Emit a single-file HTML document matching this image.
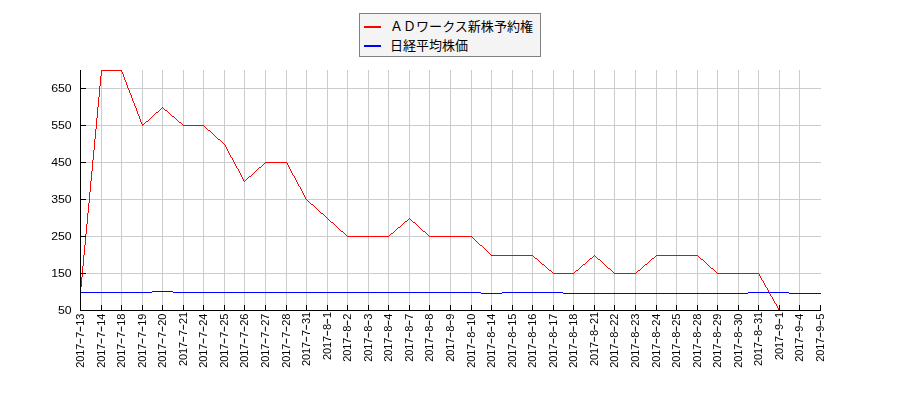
<!DOCTYPE html>
<html lang="ja">
<head>
<meta charset="utf-8">
<title>ＡＤワークス新株予約権 日経平均株価</title>
<style>
html,body{margin:0;padding:0;background:#fff;}
body{width:900px;height:400px;overflow:hidden;font-family:"Liberation Sans",sans-serif;}
svg{display:block;}
.yl{font-family:"Liberation Sans",sans-serif;font-size:11px;fill:#000;}
.xl{font-family:"Liberation Sans",sans-serif;font-size:11px;fill:#000;}
.hy{fill-opacity:0;}
.lg{font-family:"Liberation Sans","Noto Sans CJK JP",sans-serif;font-size:13px;}
</style>
</head>
<body>
<svg width="900" height="400" viewBox="0 0 900 400">
<path id="grid" fill="#cccccc" shape-rendering="crispEdges" d="M81 273h740v1h-740zM81 236h740v1h-740zM81 199h740v1h-740zM81 162h740v1h-740zM81 125h740v1h-740zM81 88h740v1h-740zM101 70h1v240h-1zM121 70h1v240h-1zM142 70h1v240h-1zM162 70h1v240h-1zM183 70h1v240h-1zM203 70h1v240h-1zM224 70h1v240h-1zM244 70h1v240h-1zM265 70h1v240h-1zM286 70h1v240h-1zM306 70h1v240h-1zM327 70h1v240h-1zM347 70h1v240h-1zM368 70h1v240h-1zM388 70h1v240h-1zM409 70h1v240h-1zM429 70h1v240h-1zM450 70h1v240h-1zM471 70h1v240h-1zM491 70h1v240h-1zM512 70h1v240h-1zM532 70h1v240h-1zM553 70h1v240h-1zM573 70h1v240h-1zM594 70h1v240h-1zM614 70h1v240h-1zM635 70h1v240h-1zM656 70h1v240h-1zM676 70h1v240h-1zM697 70h1v240h-1zM717 70h1v240h-1zM738 70h1v240h-1zM758 70h1v240h-1zM779 70h1v240h-1zM799 70h1v240h-1z"/>
<path id="series-nikkei" fill="#0000ff" shape-rendering="crispEdges" d="M152 291h21v1h-21zM81 292h71v1h-71zM173 292h308v1h-308zM502 292h61v1h-61zM748 292h41v1h-41zM481 293h21v1h-21zM563 293h185v1h-185zM789 293h32v1h-32z"/>
<path id="series-adworks" fill="#ff0000" shape-rendering="crispEdges" d="M101 70h21v1h-21zM101 71h1v5h-1zM121 71h1v1h-1zM122 72h1v2h-1zM123 74h1v3h-1zM100 76h1v10h-1zM124 77h1v3h-1zM125 80h1v2h-1zM126 82h1v3h-1zM127 85h1v3h-1zM99 86h1v11h-1zM128 88h1v2h-1zM129 90h1v3h-1zM130 93h1v2h-1zM131 95h1v3h-1zM98 97h1v10h-1zM132 98h1v3h-1zM133 101h1v2h-1zM134 103h1v3h-1zM135 106h1v2h-1zM97 107h1v11h-1zM162 107h1v1h-1zM136 108h1v3h-1zM161 108h1v1h-1zM163 108h1v1h-1zM160 109h1v1h-1zM164 109h1v1h-1zM159 110h1v1h-1zM165 110h2v1h-2zM137 111h1v3h-1zM158 111h1v1h-1zM167 111h1v1h-1zM156 112h2v1h-2zM168 112h1v1h-1zM155 113h1v1h-1zM169 113h1v1h-1zM138 114h1v2h-1zM154 114h1v1h-1zM170 114h1v1h-1zM153 115h1v1h-1zM171 115h1v1h-1zM139 116h1v3h-1zM152 116h1v1h-1zM172 116h2v1h-2zM151 117h1v1h-1zM174 117h1v1h-1zM96 118h1v11h-1zM150 118h1v1h-1zM175 118h1v1h-1zM140 119h1v3h-1zM149 119h1v1h-1zM176 119h1v1h-1zM148 120h1v1h-1zM177 120h1v1h-1zM146 121h2v1h-2zM178 121h1v1h-1zM141 122h1v2h-1zM145 122h1v1h-1zM179 122h2v1h-2zM144 123h1v1h-1zM181 123h1v1h-1zM142 124h2v1h-2zM182 124h1v1h-1zM142 125h1v1h-1zM183 125h21v1h-21zM204 126h1v1h-1zM205 127h1v1h-1zM206 128h1v1h-1zM95 129h1v10h-1zM207 129h1v1h-1zM208 130h2v1h-2zM210 131h1v1h-1zM211 132h1v1h-1zM212 133h1v1h-1zM213 134h1v1h-1zM214 135h1v1h-1zM215 136h1v1h-1zM216 137h1v1h-1zM217 138h1v1h-1zM94 139h1v11h-1zM218 139h2v1h-2zM220 140h1v1h-1zM221 141h1v1h-1zM222 142h1v1h-1zM223 143h1v1h-1zM224 144h1v1h-1zM225 145h1v2h-1zM226 147h1v2h-1zM227 149h1v2h-1zM93 150h1v10h-1zM228 151h1v2h-1zM229 153h1v2h-1zM230 155h1v2h-1zM231 157h1v1h-1zM232 158h1v2h-1zM92 160h1v11h-1zM233 160h1v2h-1zM234 162h1v2h-1zM265 162h22v1h-22zM264 163h1v1h-1zM287 163h1v2h-1zM235 164h1v2h-1zM263 164h1v1h-1zM262 165h1v1h-1zM288 165h1v2h-1zM236 166h1v2h-1zM261 166h1v1h-1zM259 167h2v1h-2zM289 167h1v2h-1zM237 168h1v1h-1zM258 168h1v1h-1zM238 169h1v2h-1zM257 169h1v1h-1zM290 169h1v2h-1zM256 170h1v1h-1zM91 171h1v10h-1zM239 171h1v2h-1zM255 171h1v1h-1zM291 171h1v2h-1zM254 172h1v1h-1zM240 173h1v2h-1zM253 173h1v1h-1zM292 173h1v2h-1zM252 174h1v1h-1zM241 175h1v2h-1zM251 175h1v1h-1zM293 175h1v1h-1zM249 176h2v1h-2zM294 176h1v2h-1zM242 177h1v2h-1zM248 177h1v1h-1zM247 178h1v1h-1zM295 178h1v2h-1zM243 179h1v2h-1zM246 179h1v1h-1zM245 180h1v1h-1zM296 180h1v2h-1zM90 181h1v11h-1zM244 181h1v1h-1zM297 182h1v2h-1zM298 184h1v2h-1zM299 186h1v1h-1zM300 187h1v2h-1zM301 189h1v2h-1zM302 191h1v2h-1zM89 192h1v11h-1zM303 193h1v2h-1zM304 195h1v2h-1zM305 197h1v2h-1zM306 199h1v1h-1zM307 200h1v1h-1zM308 201h1v1h-1zM309 202h1v1h-1zM88 203h1v10h-1zM310 203h1v1h-1zM311 204h2v1h-2zM313 205h1v1h-1zM314 206h1v1h-1zM315 207h1v1h-1zM316 208h1v1h-1zM317 209h1v1h-1zM318 210h1v1h-1zM319 211h1v1h-1zM320 212h1v1h-1zM87 213h1v11h-1zM321 213h2v1h-2zM323 214h1v1h-1zM324 215h1v1h-1zM325 216h1v1h-1zM326 217h1v1h-1zM327 218h1v1h-1zM409 218h1v1h-1zM328 219h1v1h-1zM408 219h1v1h-1zM410 219h1v1h-1zM329 220h1v1h-1zM407 220h1v1h-1zM411 220h1v1h-1zM330 221h1v1h-1zM405 221h2v1h-2zM412 221h1v1h-1zM331 222h2v1h-2zM404 222h1v1h-1zM413 222h2v1h-2zM333 223h1v1h-1zM403 223h1v1h-1zM415 223h1v1h-1zM86 224h1v10h-1zM334 224h1v1h-1zM402 224h1v1h-1zM416 224h1v1h-1zM335 225h1v1h-1zM401 225h1v1h-1zM417 225h1v1h-1zM336 226h1v1h-1zM400 226h1v1h-1zM418 226h1v1h-1zM337 227h1v1h-1zM398 227h2v1h-2zM419 227h1v1h-1zM338 228h1v1h-1zM397 228h1v1h-1zM420 228h1v1h-1zM339 229h1v1h-1zM396 229h1v1h-1zM421 229h1v1h-1zM340 230h1v1h-1zM395 230h1v1h-1zM422 230h1v1h-1zM341 231h2v1h-2zM394 231h1v1h-1zM423 231h2v1h-2zM343 232h1v1h-1zM393 232h1v1h-1zM425 232h1v1h-1zM344 233h1v1h-1zM391 233h2v1h-2zM426 233h1v1h-1zM85 234h1v11h-1zM345 234h1v1h-1zM390 234h1v1h-1zM427 234h1v1h-1zM346 235h1v1h-1zM389 235h1v1h-1zM428 235h1v1h-1zM347 236h42v1h-42zM429 236h43v1h-43zM472 237h1v1h-1zM473 238h1v1h-1zM474 239h1v1h-1zM475 240h1v1h-1zM476 241h1v1h-1zM477 242h1v1h-1zM478 243h1v1h-1zM479 244h1v1h-1zM84 245h1v10h-1zM480 245h2v1h-2zM482 246h1v1h-1zM483 247h1v1h-1zM484 248h1v1h-1zM485 249h1v1h-1zM486 250h1v1h-1zM487 251h1v1h-1zM488 252h1v1h-1zM489 253h1v1h-1zM490 254h1v1h-1zM83 255h1v11h-1zM491 255h42v1h-42zM594 255h1v1h-1zM656 255h42v1h-42zM533 256h1v1h-1zM593 256h1v1h-1zM595 256h1v1h-1zM655 256h1v1h-1zM698 256h1v1h-1zM534 257h1v1h-1zM592 257h1v1h-1zM596 257h1v1h-1zM654 257h1v1h-1zM699 257h1v1h-1zM535 258h2v1h-2zM590 258h2v1h-2zM597 258h1v1h-1zM652 258h2v1h-2zM700 258h1v1h-1zM537 259h1v1h-1zM589 259h1v1h-1zM598 259h2v1h-2zM651 259h1v1h-1zM701 259h2v1h-2zM538 260h1v1h-1zM588 260h1v1h-1zM600 260h1v1h-1zM650 260h1v1h-1zM703 260h1v1h-1zM539 261h1v1h-1zM587 261h1v1h-1zM601 261h1v1h-1zM649 261h1v1h-1zM704 261h1v1h-1zM540 262h1v1h-1zM586 262h1v1h-1zM602 262h1v1h-1zM648 262h1v1h-1zM705 262h1v1h-1zM541 263h1v1h-1zM585 263h1v1h-1zM603 263h1v1h-1zM647 263h1v1h-1zM706 263h1v1h-1zM542 264h2v1h-2zM583 264h2v1h-2zM604 264h1v1h-1zM645 264h2v1h-2zM707 264h1v1h-1zM544 265h1v1h-1zM582 265h1v1h-1zM605 265h1v1h-1zM644 265h1v1h-1zM708 265h1v1h-1zM82 266h1v11h-1zM545 266h1v1h-1zM581 266h1v1h-1zM606 266h1v1h-1zM643 266h1v1h-1zM709 266h1v1h-1zM546 267h1v1h-1zM580 267h1v1h-1zM607 267h1v1h-1zM642 267h1v1h-1zM710 267h1v1h-1zM547 268h1v1h-1zM579 268h1v1h-1zM608 268h2v1h-2zM641 268h1v1h-1zM711 268h2v1h-2zM548 269h1v1h-1zM578 269h1v1h-1zM610 269h1v1h-1zM640 269h1v1h-1zM713 269h1v1h-1zM549 270h2v1h-2zM576 270h2v1h-2zM611 270h1v1h-1zM638 270h2v1h-2zM714 270h1v1h-1zM551 271h1v1h-1zM575 271h1v1h-1zM612 271h1v1h-1zM637 271h1v1h-1zM715 271h1v1h-1zM552 272h1v1h-1zM574 272h1v1h-1zM613 272h1v1h-1zM636 272h1v1h-1zM716 272h1v1h-1zM553 273h21v1h-21zM614 273h22v1h-22zM717 273h42v1h-42zM759 274h1v2h-1zM760 276h1v2h-1zM81 277h1v10h-1zM761 278h1v2h-1zM762 280h1v1h-1zM763 281h1v2h-1zM764 283h1v2h-1zM765 285h1v2h-1zM766 287h1v1h-1zM767 288h1v2h-1zM768 290h1v2h-1zM769 292h1v2h-1zM770 294h1v2h-1zM771 296h1v1h-1zM772 297h1v2h-1zM773 299h1v2h-1zM774 301h1v2h-1zM775 303h1v1h-1zM776 304h1v2h-1zM777 306h1v2h-1zM778 308h1v2h-1z"/>
<path id="axes" fill="#000000" shape-rendering="crispEdges" d="M80 70h1v241h-1zM80 310h741v1h-741zM81 310h5v1h-5zM81 273h5v1h-5zM81 236h5v1h-5zM81 199h5v1h-5zM81 162h5v1h-5zM81 125h5v1h-5zM81 88h5v1h-5zM80 305h1v5h-1zM101 305h1v5h-1zM121 305h1v5h-1zM142 305h1v5h-1zM162 305h1v5h-1zM183 305h1v5h-1zM203 305h1v5h-1zM224 305h1v5h-1zM244 305h1v5h-1zM265 305h1v5h-1zM286 305h1v5h-1zM306 305h1v5h-1zM327 305h1v5h-1zM347 305h1v5h-1zM368 305h1v5h-1zM388 305h1v5h-1zM409 305h1v5h-1zM429 305h1v5h-1zM450 305h1v5h-1zM471 305h1v5h-1zM491 305h1v5h-1zM512 305h1v5h-1zM532 305h1v5h-1zM553 305h1v5h-1zM573 305h1v5h-1zM594 305h1v5h-1zM614 305h1v5h-1zM635 305h1v5h-1zM656 305h1v5h-1zM676 305h1v5h-1zM697 305h1v5h-1zM717 305h1v5h-1zM738 305h1v5h-1zM758 305h1v5h-1zM779 305h1v5h-1zM799 305h1v5h-1zM820 305h1v5h-1z"/>
<g id="ylabels" text-anchor="end" style="mix-blend-mode:multiply">
<text class="yl" x="71.7" y="314.0" textLength="13.7" lengthAdjust="spacingAndGlyphs">50</text>
<text class="yl" x="71.7" y="277.0" textLength="20.5" lengthAdjust="spacingAndGlyphs">150</text>
<text class="yl" x="71.7" y="240.0" textLength="20.5" lengthAdjust="spacingAndGlyphs">250</text>
<text class="yl" x="71.7" y="203.0" textLength="20.5" lengthAdjust="spacingAndGlyphs">350</text>
<text class="yl" x="71.7" y="166.0" textLength="20.5" lengthAdjust="spacingAndGlyphs">450</text>
<text class="yl" x="71.7" y="129.0" textLength="20.5" lengthAdjust="spacingAndGlyphs">550</text>
<text class="yl" x="71.7" y="92.0" textLength="20.5" lengthAdjust="spacingAndGlyphs">650</text>
</g>
<g id="xlabels" style="mix-blend-mode:multiply">
<text class="xl" transform="translate(84.00 313.60) rotate(-90)" x="-54.06 -48.06 -42.06 -36.06 -28.83 -24.06 -16.83 -12.06 -6.06">2017<tspan class="hy">-</tspan>7<tspan class="hy">-</tspan>13</text>
<text class="xl" transform="translate(105.00 313.60) rotate(-90)" x="-54.06 -48.06 -42.06 -36.06 -28.83 -24.06 -16.83 -12.06 -6.06">2017<tspan class="hy">-</tspan>7<tspan class="hy">-</tspan>14</text>
<text class="xl" transform="translate(125.00 313.60) rotate(-90)" x="-54.06 -48.06 -42.06 -36.06 -28.83 -24.06 -16.83 -12.06 -6.06">2017<tspan class="hy">-</tspan>7<tspan class="hy">-</tspan>18</text>
<text class="xl" transform="translate(146.00 313.60) rotate(-90)" x="-54.06 -48.06 -42.06 -36.06 -28.83 -24.06 -16.83 -12.06 -6.06">2017<tspan class="hy">-</tspan>7<tspan class="hy">-</tspan>19</text>
<text class="xl" transform="translate(166.00 313.60) rotate(-90)" x="-54.06 -48.06 -42.06 -36.06 -28.83 -24.06 -16.83 -12.06 -6.06">2017<tspan class="hy">-</tspan>7<tspan class="hy">-</tspan>20</text>
<text class="xl" transform="translate(187.00 311.85) rotate(-90)" x="-54.06 -48.06 -42.06 -36.06 -28.83 -24.06 -16.83 -12.06 -6.06">2017<tspan class="hy">-</tspan>7<tspan class="hy">-</tspan>21</text>
<text class="xl" transform="translate(207.00 313.60) rotate(-90)" x="-54.06 -48.06 -42.06 -36.06 -28.83 -24.06 -16.83 -12.06 -6.06">2017<tspan class="hy">-</tspan>7<tspan class="hy">-</tspan>24</text>
<text class="xl" transform="translate(228.00 313.60) rotate(-90)" x="-54.06 -48.06 -42.06 -36.06 -28.83 -24.06 -16.83 -12.06 -6.06">2017<tspan class="hy">-</tspan>7<tspan class="hy">-</tspan>25</text>
<text class="xl" transform="translate(248.00 313.60) rotate(-90)" x="-54.06 -48.06 -42.06 -36.06 -28.83 -24.06 -16.83 -12.06 -6.06">2017<tspan class="hy">-</tspan>7<tspan class="hy">-</tspan>26</text>
<text class="xl" transform="translate(269.00 313.60) rotate(-90)" x="-54.06 -48.06 -42.06 -36.06 -28.83 -24.06 -16.83 -12.06 -6.06">2017<tspan class="hy">-</tspan>7<tspan class="hy">-</tspan>27</text>
<text class="xl" transform="translate(290.00 313.60) rotate(-90)" x="-54.06 -48.06 -42.06 -36.06 -28.83 -24.06 -16.83 -12.06 -6.06">2017<tspan class="hy">-</tspan>7<tspan class="hy">-</tspan>28</text>
<text class="xl" transform="translate(310.00 311.85) rotate(-90)" x="-54.06 -48.06 -42.06 -36.06 -28.83 -24.06 -16.83 -12.06 -6.06">2017<tspan class="hy">-</tspan>7<tspan class="hy">-</tspan>31</text>
<text class="xl" transform="translate(331.00 311.85) rotate(-90)" x="-48.06 -42.06 -36.06 -30.06 -22.83 -18.06 -10.83 -6.06">2017<tspan class="hy">-</tspan>8<tspan class="hy">-</tspan>1</text>
<text class="xl" transform="translate(351.00 313.60) rotate(-90)" x="-48.06 -42.06 -36.06 -30.06 -22.83 -18.06 -10.83 -6.06">2017<tspan class="hy">-</tspan>8<tspan class="hy">-</tspan>2</text>
<text class="xl" transform="translate(372.00 313.60) rotate(-90)" x="-48.06 -42.06 -36.06 -30.06 -22.83 -18.06 -10.83 -6.06">2017<tspan class="hy">-</tspan>8<tspan class="hy">-</tspan>3</text>
<text class="xl" transform="translate(392.00 313.60) rotate(-90)" x="-48.06 -42.06 -36.06 -30.06 -22.83 -18.06 -10.83 -6.06">2017<tspan class="hy">-</tspan>8<tspan class="hy">-</tspan>4</text>
<text class="xl" transform="translate(413.00 313.60) rotate(-90)" x="-48.06 -42.06 -36.06 -30.06 -22.83 -18.06 -10.83 -6.06">2017<tspan class="hy">-</tspan>8<tspan class="hy">-</tspan>7</text>
<text class="xl" transform="translate(433.00 313.60) rotate(-90)" x="-48.06 -42.06 -36.06 -30.06 -22.83 -18.06 -10.83 -6.06">2017<tspan class="hy">-</tspan>8<tspan class="hy">-</tspan>8</text>
<text class="xl" transform="translate(454.00 313.60) rotate(-90)" x="-48.06 -42.06 -36.06 -30.06 -22.83 -18.06 -10.83 -6.06">2017<tspan class="hy">-</tspan>8<tspan class="hy">-</tspan>9</text>
<text class="xl" transform="translate(475.00 313.60) rotate(-90)" x="-54.06 -48.06 -42.06 -36.06 -28.83 -24.06 -16.83 -12.06 -6.06">2017<tspan class="hy">-</tspan>8<tspan class="hy">-</tspan>10</text>
<text class="xl" transform="translate(495.00 313.60) rotate(-90)" x="-54.06 -48.06 -42.06 -36.06 -28.83 -24.06 -16.83 -12.06 -6.06">2017<tspan class="hy">-</tspan>8<tspan class="hy">-</tspan>14</text>
<text class="xl" transform="translate(516.00 313.60) rotate(-90)" x="-54.06 -48.06 -42.06 -36.06 -28.83 -24.06 -16.83 -12.06 -6.06">2017<tspan class="hy">-</tspan>8<tspan class="hy">-</tspan>15</text>
<text class="xl" transform="translate(536.00 313.60) rotate(-90)" x="-54.06 -48.06 -42.06 -36.06 -28.83 -24.06 -16.83 -12.06 -6.06">2017<tspan class="hy">-</tspan>8<tspan class="hy">-</tspan>16</text>
<text class="xl" transform="translate(557.00 313.60) rotate(-90)" x="-54.06 -48.06 -42.06 -36.06 -28.83 -24.06 -16.83 -12.06 -6.06">2017<tspan class="hy">-</tspan>8<tspan class="hy">-</tspan>17</text>
<text class="xl" transform="translate(577.00 313.60) rotate(-90)" x="-54.06 -48.06 -42.06 -36.06 -28.83 -24.06 -16.83 -12.06 -6.06">2017<tspan class="hy">-</tspan>8<tspan class="hy">-</tspan>18</text>
<text class="xl" transform="translate(598.00 311.85) rotate(-90)" x="-54.06 -48.06 -42.06 -36.06 -28.83 -24.06 -16.83 -12.06 -6.06">2017<tspan class="hy">-</tspan>8<tspan class="hy">-</tspan>21</text>
<text class="xl" transform="translate(618.00 313.60) rotate(-90)" x="-54.06 -48.06 -42.06 -36.06 -28.83 -24.06 -16.83 -12.06 -6.06">2017<tspan class="hy">-</tspan>8<tspan class="hy">-</tspan>22</text>
<text class="xl" transform="translate(639.00 313.60) rotate(-90)" x="-54.06 -48.06 -42.06 -36.06 -28.83 -24.06 -16.83 -12.06 -6.06">2017<tspan class="hy">-</tspan>8<tspan class="hy">-</tspan>23</text>
<text class="xl" transform="translate(660.00 313.60) rotate(-90)" x="-54.06 -48.06 -42.06 -36.06 -28.83 -24.06 -16.83 -12.06 -6.06">2017<tspan class="hy">-</tspan>8<tspan class="hy">-</tspan>24</text>
<text class="xl" transform="translate(680.00 313.60) rotate(-90)" x="-54.06 -48.06 -42.06 -36.06 -28.83 -24.06 -16.83 -12.06 -6.06">2017<tspan class="hy">-</tspan>8<tspan class="hy">-</tspan>25</text>
<text class="xl" transform="translate(701.00 313.60) rotate(-90)" x="-54.06 -48.06 -42.06 -36.06 -28.83 -24.06 -16.83 -12.06 -6.06">2017<tspan class="hy">-</tspan>8<tspan class="hy">-</tspan>28</text>
<text class="xl" transform="translate(721.00 313.60) rotate(-90)" x="-54.06 -48.06 -42.06 -36.06 -28.83 -24.06 -16.83 -12.06 -6.06">2017<tspan class="hy">-</tspan>8<tspan class="hy">-</tspan>29</text>
<text class="xl" transform="translate(742.00 313.60) rotate(-90)" x="-54.06 -48.06 -42.06 -36.06 -28.83 -24.06 -16.83 -12.06 -6.06">2017<tspan class="hy">-</tspan>8<tspan class="hy">-</tspan>30</text>
<text class="xl" transform="translate(762.00 311.85) rotate(-90)" x="-54.06 -48.06 -42.06 -36.06 -28.83 -24.06 -16.83 -12.06 -6.06">2017<tspan class="hy">-</tspan>8<tspan class="hy">-</tspan>31</text>
<text class="xl" transform="translate(783.00 311.85) rotate(-90)" x="-48.06 -42.06 -36.06 -30.06 -22.83 -18.06 -10.83 -6.06">2017<tspan class="hy">-</tspan>9<tspan class="hy">-</tspan>1</text>
<text class="xl" transform="translate(803.00 313.60) rotate(-90)" x="-48.06 -42.06 -36.06 -30.06 -22.83 -18.06 -10.83 -6.06">2017<tspan class="hy">-</tspan>9<tspan class="hy">-</tspan>4</text>
<text class="xl" transform="translate(824.00 313.60) rotate(-90)" x="-48.06 -42.06 -36.06 -30.06 -22.83 -18.06 -10.83 -6.06">2017<tspan class="hy">-</tspan>9<tspan class="hy">-</tspan>5</text>
<path id="xlabel-dashes" fill="#000" d="M79.90 338.60h1.0v4.8h-1.0zM79.90 326.60h1.0v4.8h-1.0zM100.90 338.60h1.0v4.8h-1.0zM100.90 326.60h1.0v4.8h-1.0zM120.90 338.60h1.0v4.8h-1.0zM120.90 326.60h1.0v4.8h-1.0zM141.90 338.60h1.0v4.8h-1.0zM141.90 326.60h1.0v4.8h-1.0zM161.90 338.60h1.0v4.8h-1.0zM161.90 326.60h1.0v4.8h-1.0zM182.90 336.85h1.0v4.8h-1.0zM182.90 324.85h1.0v4.8h-1.0zM202.90 338.60h1.0v4.8h-1.0zM202.90 326.60h1.0v4.8h-1.0zM223.90 338.60h1.0v4.8h-1.0zM223.90 326.60h1.0v4.8h-1.0zM243.90 338.60h1.0v4.8h-1.0zM243.90 326.60h1.0v4.8h-1.0zM264.90 338.60h1.0v4.8h-1.0zM264.90 326.60h1.0v4.8h-1.0zM285.90 338.60h1.0v4.8h-1.0zM285.90 326.60h1.0v4.8h-1.0zM305.90 336.85h1.0v4.8h-1.0zM305.90 324.85h1.0v4.8h-1.0zM326.90 330.85h1.0v4.8h-1.0zM326.90 318.85h1.0v4.8h-1.0zM346.90 332.60h1.0v4.8h-1.0zM346.90 320.60h1.0v4.8h-1.0zM367.90 332.60h1.0v4.8h-1.0zM367.90 320.60h1.0v4.8h-1.0zM387.90 332.60h1.0v4.8h-1.0zM387.90 320.60h1.0v4.8h-1.0zM408.90 332.60h1.0v4.8h-1.0zM408.90 320.60h1.0v4.8h-1.0zM428.90 332.60h1.0v4.8h-1.0zM428.90 320.60h1.0v4.8h-1.0zM449.90 332.60h1.0v4.8h-1.0zM449.90 320.60h1.0v4.8h-1.0zM470.90 338.60h1.0v4.8h-1.0zM470.90 326.60h1.0v4.8h-1.0zM490.90 338.60h1.0v4.8h-1.0zM490.90 326.60h1.0v4.8h-1.0zM511.90 338.60h1.0v4.8h-1.0zM511.90 326.60h1.0v4.8h-1.0zM531.90 338.60h1.0v4.8h-1.0zM531.90 326.60h1.0v4.8h-1.0zM552.90 338.60h1.0v4.8h-1.0zM552.90 326.60h1.0v4.8h-1.0zM572.90 338.60h1.0v4.8h-1.0zM572.90 326.60h1.0v4.8h-1.0zM593.90 336.85h1.0v4.8h-1.0zM593.90 324.85h1.0v4.8h-1.0zM613.90 338.60h1.0v4.8h-1.0zM613.90 326.60h1.0v4.8h-1.0zM634.90 338.60h1.0v4.8h-1.0zM634.90 326.60h1.0v4.8h-1.0zM655.90 338.60h1.0v4.8h-1.0zM655.90 326.60h1.0v4.8h-1.0zM675.90 338.60h1.0v4.8h-1.0zM675.90 326.60h1.0v4.8h-1.0zM696.90 338.60h1.0v4.8h-1.0zM696.90 326.60h1.0v4.8h-1.0zM716.90 338.60h1.0v4.8h-1.0zM716.90 326.60h1.0v4.8h-1.0zM737.90 338.60h1.0v4.8h-1.0zM737.90 326.60h1.0v4.8h-1.0zM757.90 336.85h1.0v4.8h-1.0zM757.90 324.85h1.0v4.8h-1.0zM778.90 330.85h1.0v4.8h-1.0zM778.90 318.85h1.0v4.8h-1.0zM798.90 332.60h1.0v4.8h-1.0zM798.90 320.60h1.0v4.8h-1.0zM819.90 332.60h1.0v4.8h-1.0zM819.90 320.60h1.0v4.8h-1.0z"/>
</g>
<g id="legend">
<rect x="359.5" y="13.5" width="181" height="43" fill="#f4f4f4" stroke="#808080" stroke-width="1"/>
<rect x="364" y="26" width="17" height="2" fill="#ff0000"/>
<rect x="364" y="45" width="17" height="2" fill="#0000ff"/>
<g fill="#000000">
<text id="legend-label-adworks" class="lg" x="390" y="31" textLength="143" lengthAdjust="spacingAndGlyphs">ＡＤワークス新株予約権</text>
<text id="legend-label-nikkei" class="lg" x="390" y="50.2" textLength="78" lengthAdjust="spacingAndGlyphs">日経平均株価</text>
</g>
</g>
</svg>
</body>
</html>
